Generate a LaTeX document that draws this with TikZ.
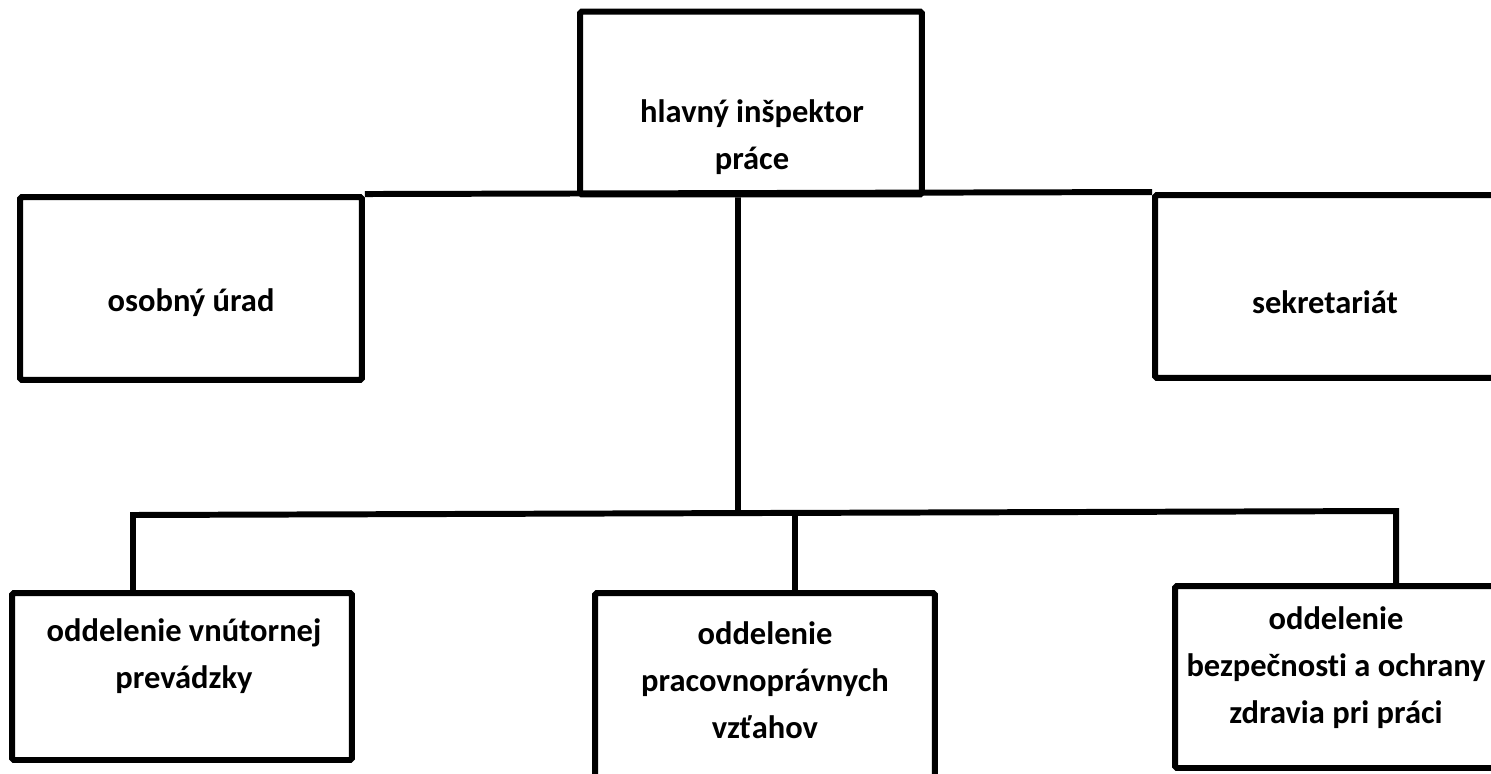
\documentclass[tikz,border=0pt]{standalone}
\usepackage{fontspec}
\setmainfont{Carlito}[Ligatures=CommonOff]
\usetikzlibrary{positioning}

\tikzset{
  unit/.style={draw, line width=3.4pt, rounded corners=1pt, minimum width=6.84cm, minimum height=3.66cm, inner sep=0pt},
  caption/.style={align=center, font=\fontsize{18.5}{26.7}\selectfont\bfseries},
  link/.style={line width=3.4pt}
}

\begin{document}
\begin{tikzpicture}[x=0.02cm, y=-0.02cm]
        \useasboundingbox (0,0) rectangle (1491,774);
        % Head of the office
        \node[unit] (chief) at (751,103) {};
        \node[caption] (chieftxt) at (752,137) {hlavný inšpektor\\práce};
        % Staff units
        \node[unit] (personal) at (191,288.5) {};
        \node[caption] (personaltxt) at (191,303) {osobný úrad};
        \node[unit] (secretary) at (1326,286.5) {};
        \node[caption] (secretarytxt) at (1325,302) {sekretariát};
        % Departments
        \node[unit, minimum width=6.8cm, minimum height=3.34cm] (dept1) at (182,676.5) {};
        \node[caption] (dept1txt) at (184,656.5) {oddelenie vnútornej\\prevádzky};
        \node[unit, minimum width=6.8cm, minimum height=4cm] (dept2) at (765,693) {};
        \node[caption] (dept2txt) at (765,680) {oddelenie\\pracovnoprávnych\\vzťahov};
        \node[unit, minimum width=6.8cm, minimum height=3.64cm] (dept3) at (1345,677) {};
        \node[caption] (dept3txt) at (1336,668) {oddelenie\\bezpečnosti a ochrany\\zdravia pri práci};
        % Connectors
        \coordinate (busL) at (133,515);
        \coordinate (busR) at (1396,511);
        \coordinate (trunk) at (738,513);
        \coordinate (mid) at (795,513);
        \draw[link] (personal.north east) -- (secretary.north west);
        \draw[link] ([xshift=-0.26cm]chief.south) -- (trunk);
        \draw[link] (busL |- dept1.north) -- (busL) -- (busR) -- (busR |- dept3.north);
        \draw[link] (mid) -- (mid |- dept2.north);
\end{tikzpicture}
\end{document}
